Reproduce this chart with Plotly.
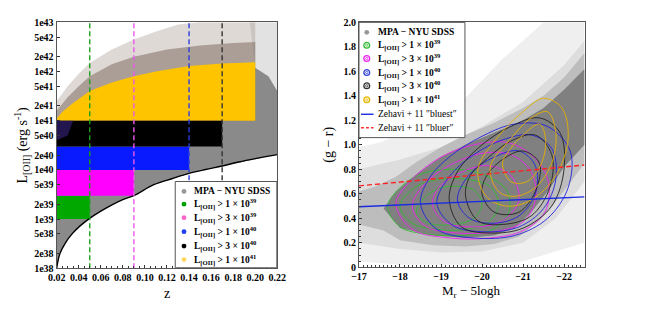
import plotly.graph_objects as go

W, H = 647, 309

# ---------------- left panel data ----------------
z_limits = [0.05, 0.09, 0.14, 0.17, 0.20]
lum_thresholds = [1e39, 3e39, 1e40, 3e40, 1e41]
lum_caps = [3e39, 1e40, 3e40, 1e41]
box_colors = ["#00a800", "#ff00ff", "#0a1aff", "#000000", "#ffc400"]
dash_colors = ["#1aa01a", "#ee55ee", "#2a3ee0", "#333333"]

flux_z = [0.02, 0.023, 0.028, 0.034, 0.041, 0.049, 0.06, 0.071, 0.08, 0.09, 0.108, 0.125, 0.14, 0.155, 0.17, 0.185, 0.2, 0.22]
flux_L = [1.0e38, 2.0e38, 3.3e38, 5.0e38, 7.2e38, 1.0e39, 1.45e39, 2.0e39, 2.5e39, 3.0e39, 5.0e39, 6.7e39, 8.5e39, 1.02e40, 1.2e40, 1.45e40, 1.7e40, 2.05e40]

grey_top_z = [0.22, 0.212, 0.2, 0.02]
grey_top_L = [4e41, 8e41, 1.2e42, 1.0e41]

haze_z = [0.2, 0.212, 0.22, 0.22, 0.195]
haze_L = [1.2e42, 8e41, 4e41, 1e43, 1e43]

yellow_top_z = [0.02, 0.025, 0.035, 0.05, 0.07, 0.09, 0.11, 0.14, 0.17, 0.20]
yellow_top_L = [1.1e41, 1.5e41, 2.3e41, 4.0e41, 6.0e41, 8.0e41, 1.0e42, 1.3e42, 1.45e42, 1.55e42]

brown_in_z = [0.02, 0.03, 0.04, 0.05, 0.07, 0.09, 0.12, 0.15, 0.18, 0.20]
brown_in_L = [1.6e41, 3.0e41, 5.0e41, 8.0e41, 1.4e42, 2.0e42, 2.8e42, 3.4e42, 3.8e42, 4.0e42]

brown_out_z = [0.02, 0.03, 0.04, 0.05, 0.07, 0.09, 0.11, 0.13, 0.15, 0.20]
brown_out_L = [2.5e41, 5.0e41, 9.0e41, 1.5e42, 2.8e42, 4.5e42, 6.5e42, 9.0e42, 1.0e43, 1.0e43]

navy_z = [0.02, 0.035, 0.03, 0.02]
navy_L = [1.0e41, 1.0e41, 5.0e40, 4.0e40]

left_ticks_L = [1e38, 2e38, 5e38, 1e39, 2e39, 5e39, 1e40, 2e40, 5e40, 1e41, 2e41, 5e41, 1e42, 2e42, 5e42, 1e43]
left_tick_text = ["1e38", "2e38", "5e38", "1e39", "2e39", "5e39", "1e40", "2e40", "5e40",
                  "1e41", "2e41", "5e41", "1e42", "2e42", "5e42", "1e43"]
z_ticks = [0.02, 0.04, 0.06, 0.08, 0.10, 0.12, 0.14, 0.16, 0.18, 0.20, 0.22]

sample_labels = ["MPA − NYU SDSS",
                 "L<sub>[OII]</sub> > 1 × 10<sup>39</sup>",
                 "L<sub>[OII]</sub> > 3 × 10<sup>39</sup>",
                 "L<sub>[OII]</sub> > 1 × 10<sup>40</sup>",
                 "L<sub>[OII]</sub> > 3 × 10<sup>40</sup>",
                 "L<sub>[OII]</sub> > 1 × 10<sup>41</sup>"]
left_legend_colors = ["#999999", "#00a000", "#ff66cc", "#1f3fff", "#000000", "#ffd75e"]

# ---------------- right panel data ----------------
haze1 = [(-17, 0.05), (-18, 0.02), (-19, 0.02), (-20, 0.02), (-21, 0.05), (-21.5, 0.1), (-22.5, 0.2),
         (-22.5, 2.0), (-21.5, 2.0), (-20.5, 1.7), (-19.5, 1.35), (-18.5, 1.15), (-17.5, 1.02), (-17, 0.98)]
haze2 = [(-17, 0.2), (-18, 0.15), (-19, 0.12), (-20, 0.13), (-21, 0.2), (-21.8, 0.4), (-22.5, 0.7),
         (-22.5, 1.85), (-22, 1.65), (-21, 1.35), (-20, 1.15), (-19, 0.98), (-18, 0.88), (-17, 0.8)]
haze3 = [(-17.0, 0.35), (-17.6, 0.3), (-18.0, 0.22), (-18.8, 0.18), (-19.6, 0.17), (-20.3, 0.19), (-20.9, 0.25),
         (-21.4, 0.38), (-21.9, 0.58), (-22.5, 0.85), (-22.5, 1.75), (-22.0, 1.55), (-21.5, 1.4), (-21.0, 1.3),
         (-20.3, 1.18), (-19.6, 1.08), (-19.0, 0.98), (-18.4, 0.86), (-17.9, 0.74), (-17.4, 0.66), (-17.0, 0.62)]
dense = [(-17.6, 0.48), (-18.0, 0.32), (-18.8, 0.26), (-19.6, 0.24), (-20.3, 0.26), (-20.8, 0.32),
         (-21.2, 0.45), (-21.6, 0.62), (-22.0, 0.82), (-22.5, 1.0), (-22.5, 1.62), (-22.0, 1.45),
         (-21.5, 1.3), (-21.0, 1.2), (-20.3, 1.1), (-19.6, 1.0), (-19.0, 0.9), (-18.4, 0.76), (-17.9, 0.62)]

contours_green = [
    [(-17.7, 0.50), (-18.0, 0.33), (-18.7, 0.27), (-19.5, 0.26), (-20.2, 0.30), (-20.65, 0.45), (-20.6, 0.63), (-20.0, 0.76), (-19.3, 0.80), (-18.6, 0.77), (-18.1, 0.68)],
    [(-18.0, 0.50), (-18.3, 0.36), (-18.9, 0.31), (-19.6, 0.31), (-20.2, 0.38), (-20.4, 0.52), (-20.2, 0.66), (-19.6, 0.72), (-19.0, 0.72), (-18.4, 0.66)],
    [(-18.4, 0.45), (-18.7, 0.36), (-19.3, 0.35), (-19.8, 0.40), (-20.0, 0.52), (-19.8, 0.63), (-19.2, 0.66), (-18.7, 0.60)],
]
contours_magenta = [
    [(-17.9, 0.52), (-18.3, 0.31), (-19.2, 0.24), (-20.2, 0.24), (-21.0, 0.30), (-21.55, 0.46), (-21.6, 0.72), (-21.2, 0.92), (-20.6, 1.02), (-19.8, 1.0), (-19.0, 0.90), (-18.3, 0.72)],
    [(-18.3, 0.50), (-18.6, 0.34), (-19.4, 0.28), (-20.3, 0.29), (-21.0, 0.37), (-21.3, 0.55), (-21.2, 0.78), (-20.7, 0.92), (-20.0, 0.93), (-19.2, 0.83), (-18.6, 0.68)],
    [(-18.8, 0.50), (-19.1, 0.37), (-19.8, 0.33), (-20.5, 0.38), (-20.9, 0.55), (-20.7, 0.75), (-20.1, 0.83), (-19.4, 0.76), (-18.9, 0.63)],
]
contours_blue = [
    [(-18.5, 0.52), (-18.9, 0.31), (-19.8, 0.24), (-20.8, 0.26), (-21.6, 0.40), (-22.1, 0.65), (-22.15, 0.95), (-21.6, 1.15), (-20.8, 1.17), (-20.0, 1.07), (-19.2, 0.90), (-18.7, 0.72)],
    [(-18.9, 0.52), (-19.3, 0.34), (-20.1, 0.29), (-20.9, 0.33), (-21.5, 0.48), (-21.8, 0.72), (-21.7, 0.97), (-21.2, 1.08), (-20.5, 1.04), (-19.8, 0.92), (-19.2, 0.74)],
    [(-19.4, 0.55), (-19.7, 0.40), (-20.3, 0.36), (-20.9, 0.42), (-21.3, 0.60), (-21.3, 0.83), (-20.9, 0.95), (-20.3, 0.90), (-19.7, 0.76)],
]
contours_black = [
    [(-19.2, 0.55), (-19.5, 0.33), (-20.2, 0.28), (-21.0, 0.32), (-21.7, 0.50), (-22.0, 0.80), (-21.9, 1.10), (-21.4, 1.22), (-20.7, 1.15), (-20.0, 1.0), (-19.4, 0.78)],
    [(-19.6, 0.58), (-19.9, 0.38), (-20.5, 0.35), (-21.2, 0.42), (-21.65, 0.65), (-21.7, 0.92), (-21.3, 1.08), (-20.7, 1.03), (-20.1, 0.88), (-19.7, 0.74)],
    [(-20.0, 0.60), (-20.3, 0.45), (-20.9, 0.45), (-21.3, 0.62), (-21.4, 0.85), (-21.0, 0.95), (-20.5, 0.88), (-20.1, 0.74)],
]
contours_gold = [
    [(-19.9, 0.80), (-20.1, 0.58), (-20.6, 0.50), (-21.2, 0.55), (-21.8, 0.75), (-22.1, 1.05), (-21.95, 1.30), (-21.5, 1.38), (-21.0, 1.27), (-20.4, 1.07)],
    [(-20.2, 0.82), (-20.4, 0.62), (-20.8, 0.58), (-21.3, 0.65), (-21.7, 0.85), (-21.8, 1.10), (-21.6, 1.27), (-21.2, 1.22), (-20.7, 1.05)],
    [(-20.5, 0.85), (-20.7, 0.70), (-21.1, 0.70), (-21.45, 0.85), (-21.55, 1.05), (-21.4, 1.17), (-21.0, 1.08), (-20.7, 0.97)],
]
contour_sets = [contours_green, contours_magenta, contours_blue, contours_black, contours_gold]
contour_colors = ["#33bb33", "#ee22ee", "#2222dd", "#222222", "#e8b000"]

zehavi_M = [-17.0, -22.5]
zehavi_bluest = [0.495, 0.575]
zehavi_bluer = [0.665, 0.835]

gr_ticks = [0, 0.2, 0.4, 0.6, 0.8, 1.0, 1.2, 1.4, 1.6, 1.8, 2.0]
gr_tick_text = ["0", "0.2", "0.4", "0.6", "0.8", "1.0", "1.2", "1.4", "1.6", "1.8", "2.0"]
mag_ticks = [-17, -18, -19, -20, -21, -22]
mag_tick_text = ["−17", "−18", "−19", "−20", "−21", "−22"]

right_labels = sample_labels + ["Zehavi + 11 ″bluest″", "Zehavi + 11 ″bluer″"]
right_legend_colors = ["#999999", "#33bb33", "#ee22ee", "#3344dd", "#333333", "#e8b800", "#1a2ae0", "#ff3333"]

# ---------------- figure ----------------
fig = go.Figure()
XY1 = dict(xaxis="x", yaxis="y")
XY2 = dict(xaxis="x2", yaxis="y2")


def poly(xs, ys, color, **kw):
    fig.add_trace(go.Scatter(x=list(xs) + [xs[0]], y=list(ys) + [ys[0]], fill="toself", fillcolor=color,
                             mode="lines", line=dict(width=0, color=color),
                             hoverinfo="skip", showlegend=False, **kw))


# grey sample region
poly(flux_z + grey_top_z, flux_L + grey_top_L, "#8a8a8a", **XY1)
poly(haze_z, haze_L, "rgba(160,160,160,0.3)", **XY1)
# scattered high-luminosity envelope
poly(brown_out_z + [0.20, 0.02], brown_out_L + [1e41, 1e41], "rgba(150,130,120,0.3)", **XY1)
poly(brown_in_z + [0.20, 0.02], brown_in_L + [1e41, 1e41], "rgba(120,100,85,0.5)", **XY1)
poly(yellow_top_z + [0.20, 0.02], yellow_top_L + [lum_thresholds[4], lum_thresholds[4]], box_colors[4], **XY1)
# threshold boxes
for zmax, lo, hi, col in zip(z_limits[:4], lum_thresholds[:4], lum_caps, box_colors[:4]):
    poly([0.02, zmax, zmax, 0.02], [lo, lo, hi, hi], col, **XY1)
poly(navy_z, navy_L, "rgba(50,30,110,0.7)", **XY1)
# flux limit curve
fig.add_trace(go.Scatter(x=flux_z, y=flux_L, mode="lines", line=dict(color="black", width=1.4, shape="spline"),
                         hoverinfo="skip", showlegend=False, **XY1))
# dashed z limits
for zmax, col in zip(z_limits[:4], dash_colors):
    fig.add_trace(go.Scatter(x=[zmax, zmax], y=[1e38, 1e43], mode="lines",
                             line=dict(color=col, width=1.4, dash="5px,3px"), hoverinfo="skip",
                             showlegend=False, **XY1))

# right panel
for pts, col in [(haze1, "#efefef"), (haze2, "#dddddd"), (haze3, "#bdbdbd"), (dense, "#808080")]:
    poly([p[0] for p in pts], [p[1] for p in pts], col, **XY2)
for cset, col in zip(contour_sets, contour_colors):
    for pts in cset:
        xs = [p[0] for p in pts] + [pts[0][0]]
        ys = [p[1] for p in pts] + [pts[0][1]]
        fig.add_trace(go.Scatter(x=xs, y=ys, mode="lines", line=dict(color=col, width=0.9, shape="spline", smoothing=1.0),
                                 hoverinfo="skip", showlegend=False, **XY2))
fig.add_trace(go.Scatter(x=zehavi_M, y=zehavi_bluest, mode="lines", line=dict(color="#1a2ae0", width=1.4),
                         hoverinfo="skip", showlegend=False, **XY2))
fig.add_trace(go.Scatter(x=zehavi_M, y=zehavi_bluer, mode="lines", line=dict(color="#ff2222", width=1.4, dash="5px,3px"),
                         hoverinfo="skip", showlegend=False, **XY2))

TF = dict(family="Liberation Serif", size=10, color="black", weight="bold")
ax_common = dict(showgrid=False, zeroline=False, showline=True, linecolor="#555", linewidth=1, mirror=True,
                 ticks="inside", ticklen=3, tickcolor="#333", tickfont=TF)

fig.update_layout(
    width=W, height=H, margin=dict(l=0, r=0, t=0, b=0),
    paper_bgcolor="white", plot_bgcolor="white", showlegend=False,
    xaxis=dict(domain=[49 / W, 276 / W], range=[0.02, 0.22], tickvals=z_ticks,
               ticktext=[f"{v:.2f}" for v in z_ticks],
               minor=dict(ticks="inside", ticklen=2, dtick=0.005, tickcolor="#333"), anchor="y", **ax_common),
    yaxis=dict(domain=[1 - 273 / H, 1 - 18 / H], type="log", range=[38, 43], tickvals=left_ticks_L,
               ticktext=left_tick_text, anchor="x", **ax_common),
    xaxis2=dict(domain=[360 / W, 592 / W], range=[-17, -22.5], tickvals=mag_ticks, ticktext=mag_tick_text,
                minor=dict(ticks="inside", ticklen=2, dtick=0.1, tickcolor="#333"), anchor="y2", **ax_common),
    yaxis2=dict(domain=[1 - 272 / H, 1 - 18 / H], range=[0, 2.0], tickvals=gr_ticks, ticktext=gr_tick_text,
                minor=dict(ticks="inside", ticklen=2, dtick=0.05, tickcolor="#333"), anchor="x2", **ax_common),
)


def px(x):
    return x / W


def py(y):
    return 1 - y / H


shapes = []
annotations = []
LF = dict(family="Liberation Serif", size=9.5, color="black")
# left legend
shapes.append(dict(type="rect", xref="paper", yref="paper", x0=px(171), x1=px(275.5), y0=py(272.5), y1=py(183),
                   fillcolor="white", line=dict(color="#555", width=1), layer="above"))
left_rows = [193.3, 206.5, 220.5, 235, 250, 264]
for yy, lab, col in zip(left_rows, sample_labels, left_legend_colors):
    shapes.append(dict(type="circle", xref="paper", yref="paper", x0=px(177.5), x1=px(182.5), y0=py(yy + 2.5),
                       y1=py(yy - 2.5), fillcolor=col, line=dict(width=0), layer="above"))
    annotations.append(dict(x=px(188), y=py(yy), xref="paper", yref="paper", text=f"<b>{lab}</b>", showarrow=False,
                            xanchor="left", yanchor="middle", font=LF))
# right legend
shapes.append(dict(type="rect", xref="paper", yref="paper", x0=px(360), x1=px(469), y0=py(137.5), y1=py(18),
                   fillcolor="white", line=dict(color="#555", width=1), layer="above"))
right_rows = [28.3, 41.7, 55.5, 70, 83.8, 98.3, 113.3, 127.3]
for i, (yy, lab, col) in enumerate(zip(right_rows, right_labels, right_legend_colors)):
    if i == 0:
        shapes.append(dict(type="circle", xref="paper", yref="paper", x0=px(365.5), x1=px(370.5), y0=py(yy + 2.5),
                           y1=py(yy - 2.5), fillcolor=col, line=dict(width=0), layer="above"))
    elif i <= 5:
        shapes.append(dict(type="circle", xref="paper", yref="paper", x0=px(365), x1=px(371), y0=py(yy + 3),
                           y1=py(yy - 3), fillcolor="rgba(0,0,0,0)", line=dict(width=1.3, color=col), layer="above"))
        shapes.append(dict(type="circle", xref="paper", yref="paper", x0=px(366.8), x1=px(369.2), y0=py(yy + 1.2),
                           y1=py(yy - 1.2), fillcolor="rgba(0,0,0,0)", line=dict(width=0.8, color=col), layer="above"))
    else:
        shapes.append(dict(type="line", xref="paper", yref="paper", x0=px(362), x1=px(375), y0=py(yy), y1=py(yy),
                           line=dict(color=col, width=1.4, dash="solid" if i == 6 else "3px,2px"), layer="above"))
    txt = f"<b>{lab}</b>" if i <= 5 else lab
    annotations.append(dict(x=px(378), y=py(yy), xref="paper", yref="paper", text=txt, showarrow=False,
                            xanchor="left", yanchor="middle", font=LF))

# axis titles
TT = dict(family="Liberation Serif", size=14, color="black")
annotations += [
    dict(x=px(13), y=py(145), xref="paper", yref="paper", text="L<sub>[OII]</sub> (erg s<sup>-1</sup>)",
         textangle=-90, showarrow=False, font=TT, xanchor="center", yanchor="middle"),
    dict(x=px(162.5), y=py(299), xref="paper", yref="paper", text="z", showarrow=False, font=TT,
         xanchor="center", yanchor="middle"),
    dict(x=px(329), y=py(145), xref="paper", yref="paper", text="(g − r)", textangle=-90, showarrow=False, font=TT,
         xanchor="center", yanchor="middle"),
    dict(x=px(476), y=py(297), xref="paper", yref="paper", text="M<sub>r</sub> − 5logh", showarrow=False,
         font=dict(family="Liberation Serif", size=13, color="black"), xanchor="center", yanchor="middle"),
]
fig.update_layout(shapes=shapes, annotations=annotations)

fig.write_html("out.html", config={"displayModeBar": False},
               post_script="document.body.style.margin='0px';document.body.style.padding='0px';"
                           "document.documentElement.style.margin='0px';")
